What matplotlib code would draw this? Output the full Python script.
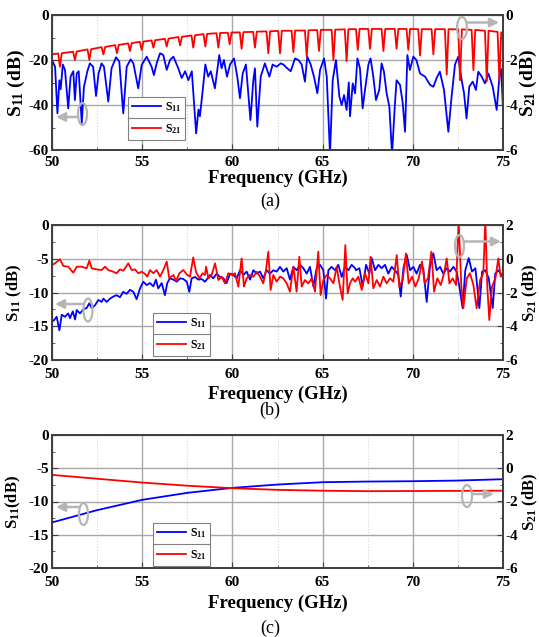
import matplotlib
matplotlib.use('Agg')
import matplotlib.pyplot as plt
from matplotlib.ticker import MultipleLocator
from matplotlib.patches import Ellipse
from matplotlib.lines import Line2D

plt.rcParams['font.family'] = 'Liberation Serif'
plt.rcParams['font.weight'] = 'bold'
plt.rcParams['axes.labelweight'] = 'bold'
plt.rcParams['mathtext.fontset'] = 'custom'
plt.rcParams['mathtext.rm'] = 'Liberation Serif:bold'
plt.rcParams['mathtext.bf'] = 'Liberation Serif:bold'
plt.rcParams['mathtext.it'] = 'Liberation Serif:bold:italic'
plt.rcParams['axes.unicode_minus'] = False

# ---------------- (a) ----------------
s11a_f = [50.0, 50.17, 50.3, 50.41, 50.48, 50.6, 50.72, 50.9, 51.03, 51.18, 51.27, 51.37, 51.48, 51.65,
          51.77, 51.96, 52.1, 52.28, 52.44, 52.58, 52.75, 52.88, 53.12, 53.3, 53.55, 53.73, 53.95, 54.14,
          54.36, 54.51, 54.78, 54.97, 55.25, 55.52, 55.65, 55.8, 55.99, 56.17, 56.36, 56.54, 56.73, 57.0,
          57.19, 57.38, 57.56, 57.75, 57.99, 58.12, 58.2, 58.4, 58.5, 58.66, 58.8, 59.03, 59.27, 59.4,
          59.53, 59.7, 59.87, 60.09, 60.27, 60.42, 60.57, 60.75, 61.0, 61.16, 61.25, 61.38, 61.57, 61.8,
          62.05, 62.23, 62.45, 62.68, 62.82, 63.04, 63.23, 63.47, 63.66, 63.84, 64.02, 64.15, 64.34, 64.52,
          64.71, 64.86, 65.08, 65.23, 65.41, 65.56, 65.74, 65.93, 66.06, 66.19, 66.33, 66.45, 66.52, 66.67,
          66.8, 66.93, 67.07, 67.22, 67.35, 67.54, 67.66, 67.81, 67.96, 68.14, 68.27, 68.4, 68.55, 68.7,
          68.85, 69.0, 69.1, 69.29, 69.44, 69.57, 69.7, 69.84, 70.03, 70.2, 70.4, 70.68, 70.95, 71.14,
          71.32, 71.5, 71.73, 71.97, 72.15, 72.34, 72.52, 72.71, 72.84, 72.98, 73.13, 73.32, 73.5, 73.63,
          73.82, 74.0, 74.19, 74.43, 74.65, 74.8, 74.9, 75.0]
s11a_db = [-20, -23, -43.7, -29, -33, -22, -24.4, -41.5, -27.4, -25, -37.8, -26, -25, -48,
           -32, -25, -21.5, -23, -36, -26, -21.5, -23, -38.5, -23.7, -18.8, -20.7, -43.7, -23,
           -19.7, -21.5, -32.6, -22.2, -18.5, -23, -26.7, -21.5, -17, -17.8, -24.4, -20, -18.5, -23.7,
           -28, -25, -29, -25, -52.6, -42, -45, -30, -22, -27.4, -25, -32.6, -17.8, -23.7,
           -20, -27.4, -22, -19.3, -27.4, -37, -26, -22, -46.7, -29, -23.7, -49.6, -27.4, -21.5,
           -27.4, -22, -23, -21.5, -22, -23.7, -25, -19.3, -20, -22, -29.6, -18.5, -22, -27.4,
           -34.8, -24.4, -19.3, -27.4, -62, -29, -20, -36.3, -40, -35.6, -42.2, -30, -45, -30.4,
           -34.8, -19.3, -23.7, -41.5, -33.3, -22, -19.3, -27.4, -37.8, -33.3, -21.5, -25.2, -34.8, -40.7,
           -62, -40.7, -29, -31, -39, -51.9, -17.8, -24.4, -18.5, -20, -26, -27.4, -31, -31.9,
           -28, -25.2, -33.3, -51.9, -36.3, -22, -18.5, -29, -34.8, -46, -31.9, -29.6, -33.3, -25.2,
           -27.4, -30.4, -26, -31.9, -42.2, -27.4, -24, -42]

s21a_f = [50.0, 50.34, 50.44, 50.54, 51.17, 51.27, 51.37, 51.97, 52.07, 52.17, 52.75, 52.85, 52.95,
          53.5, 53.6, 53.7, 54.22, 54.32, 54.42, 54.87, 54.97, 55.07, 55.52, 55.62, 55.72, 56.26, 56.36,
          56.46, 57.0, 57.1, 57.2, 57.73, 57.83, 57.93, 58.4, 58.5, 58.6, 59.12, 59.22, 59.32, 59.75,
          59.85, 59.95, 60.41, 60.51, 60.61, 61.15, 61.25, 61.35, 61.89, 61.99, 62.09, 62.54, 62.64,
          62.74, 63.28, 63.38, 63.48, 64.02, 64.12, 64.22, 64.7, 64.8, 64.9, 65.5, 65.6, 65.7, 66.23,
          66.33, 66.43, 66.85, 66.95, 67.05, 67.53, 67.63, 67.73, 68.27, 68.37, 68.47, 69.0, 69.1, 69.2,
          69.65, 69.75, 69.85, 70.3, 70.4, 70.5, 71.04, 71.14, 71.24, 71.78, 71.88, 71.98, 72.52, 72.62,
          72.72, 73.26, 73.36, 73.46, 74.0, 74.1, 74.2, 74.7, 74.8, 74.9, 75.0]
s21a_db = [-1.75, -1.71, -2.3, -1.70, -1.63, -2.0, -1.62, -1.53, -2.0, -1.52, -1.43, -1.75, -1.42,
           -1.34, -1.7, -1.33, -1.26, -1.6, -1.25, -1.19, -1.55, -1.18, -1.13, -1.45, -1.12, -1.06, -1.4,
           -1.05, -0.98, -1.35, -0.97, -0.91, -1.45, -0.9, -0.85, -1.4, -0.84, -0.81, -1.45, -0.8, -0.79,
           -1.3, -0.78, -0.77, -1.5, -0.76, -0.75, -1.45, -0.74, -0.73, -1.7, -0.72, -0.71, -1.7,
           -0.7, -0.7, -1.65, -0.69, -0.69, -1.85, -0.68, -0.67, -1.6, -0.66, -0.66, -2.0, -0.65, -0.64,
           -2.05, -0.63, -0.63, -1.55, -0.62, -0.62, -1.5, -0.62, -0.62, -1.6, -0.62, -0.62, -1.5, -0.62,
           -0.62, -1.55, -0.62, -0.63, -1.8, -0.63, -0.63, -1.75, -0.63, -0.63, -2.65, -0.63, -0.64, -2.9,
           -0.64, -0.66, -2.45, -0.66, -0.7, -2.95, -0.7, -0.75, -2.95, -0.77, -0.8]

# ---------------- (b) ----------------
s11b_f = [50.0, 50.11, 50.26, 50.41, 50.54, 50.72, 50.9, 51.0, 51.15, 51.28, 51.37, 51.55, 51.74, 51.92,
          52.07, 52.2, 52.38, 52.57, 52.75, 52.85, 53.03, 53.22, 53.4, 53.58, 53.77, 53.95, 54.14, 54.32,
          54.51, 54.69, 54.88, 55.06, 55.25, 55.43, 55.62, 55.76, 55.89, 56.08, 56.26, 56.39, 56.54, 56.73,
          56.91, 57.1, 57.28, 57.47, 57.61, 57.74, 57.93, 58.11, 58.3, 58.48,
          58.57, 58.76, 58.94, 59.13, 59.31, 59.5, 59.68, 59.87, 60.05, 60.24, 60.42, 60.61, 60.79, 60.98,
          61.16, 61.35, 61.53, 61.71, 61.9, 62.08, 62.27, 62.45, 62.64, 62.82, 63.01, 63.19, 63.38, 63.56,
          63.75, 63.93, 64.12, 64.3, 64.49, 64.67, 64.86, 65.04, 65.19, 65.32, 65.5, 65.69, 65.87, 66.06,
          66.24, 66.43, 66.61, 66.8,
          66.85, 67.04, 67.22, 67.41, 67.59, 67.72, 67.91, 68.09, 68.27, 68.46, 68.64, 68.83, 69.01, 69.2,
          69.33, 69.48, 69.66, 69.85, 70.03, 70.21, 70.4, 70.58, 70.77, 70.95, 71.14, 71.32, 71.51, 71.69,
          71.88, 72.06, 72.25, 72.43, 72.58, 72.76, 72.91, 73.1, 73.28, 73.47, 73.69, 73.84, 74.02, 74.21,
          74.43, 74.57, 74.76, 74.92, 75.0]
s11b_db = [-14.3, -14.1, -13.6, -15.6, -13.3, -13.6, -13.1, -13.8, -12.8, -14.0, -12.6, -13.1, -12.5, -12.3,
           -11.6, -12.3, -11.9, -11.1, -11.4, -10.9, -11.4, -10.9, -10.6, -10.4, -10.7, -9.9, -10.2, -9.6,
           -9.9, -11.0, -9.4, -8.4, -8.9, -8.6, -9.1, -8.1, -9.4, -8.6, -10.4, -8.6, -7.9, -8.1,
           -8.4, -7.9, -8.0, -8.4, -9.9, -7.9, -7.7, -8.1, -8.0, -8.4,
           -8.1, -7.4, -7.9, -7.2, -7.7, -7.9, -8.6, -7.2, -7.4, -7.9, -6.7, -7.4, -6.9, -8.1,
           -6.7, -7.2, -6.9, -7.9, -6.7, -7.2, -6.7, -6.9, -6.2, -6.9, -6.4, -8.1, -6.2, -6.7,
           -5.9, -6.4, -7.2, -6.2, -9.1, -6.4, -5.9, -6.7, -10.9, -6.7, -6.2, -6.7, -5.9, -7.7,
           -6.2, -6.7, -5.9, -6.4,
           -6.7, -6.4, -9.1, -5.9, -7.2, -4.9, -6.7, -5.9, -6.4, -5.9, -7.2, -6.2, -6.7, -7.4,
           -10.6, -6.4, -4.4, -6.7, -6.2, -7.2, -5.9, -6.4, -11.4, -6.2, -4.2, -6.7, -6.2, -7.2,
           -6.4, -6.9, -6.2, -6.9, -9.1, -12.3, -6.7, -4.9, -6.9, -6.4, -12.3, -6.9, -6.7, -7.9,
           -12.3, -7.2, -6.7, -7.4, -7.7]

s21b_f = [50.0, 50.17, 50.44, 50.63, 50.9, 51.18, 51.37, 51.64, 51.92, 52.07, 52.2, 52.48, 52.75, 52.94,
          53.12, 53.4, 53.58, 53.77, 53.95, 54.23, 54.42, 54.6, 54.79, 54.97, 55.16, 55.28, 55.43, 55.62,
          55.8, 55.99, 56.17, 56.36, 56.5, 56.73, 56.87, 57.06, 57.28, 57.5, 57.65, 57.83, 57.98, 58.17,
          58.35, 58.48,
          58.54, 58.67, 58.85, 59.04, 59.22, 59.41, 59.59, 59.77, 59.96, 60.14, 60.33, 60.51, 60.64, 60.79,
          60.98, 61.16, 61.35, 61.53, 61.71, 61.86, 61.99, 62.12, 62.27, 62.45, 62.64, 62.82, 63.01, 63.19,
          63.38, 63.56, 63.71, 63.84, 64.02, 64.21, 64.39, 64.58, 64.76, 64.89, 65.04, 65.23, 65.41, 65.6,
          65.78, 65.96, 66.11, 66.26, 66.39, 66.52, 66.67, 66.8,
          66.98, 67.17, 67.35, 67.54, 67.66, 67.81, 68.0, 68.18, 68.37, 68.55, 68.74, 68.92, 69.11, 69.25,
          69.44, 69.62, 69.77, 69.96, 70.14, 70.33, 70.51, 70.66, 70.84, 71.03, 71.18, 71.36, 71.55, 71.73,
          71.88, 72.03, 72.21, 72.4, 72.54, 72.69, 72.8, 72.99, 73.17, 73.36, 73.54, 73.73, 73.91, 74.02,
          74.13, 74.24, 74.39, 74.58, 74.74, 74.87, 75.0]
s21b_db = [-0.37, -0.27, -0.03, -0.43, -0.47, -0.83, -0.47, -0.47, -0.57, -0.11, -0.57, -0.63, -0.67, -0.47,
           -0.67, -0.77, -0.86, -0.63, -0.71, -0.27, -0.67, -0.63, -0.86, -0.77, -0.9, -1.06, -0.67, -0.86,
           -0.67, -1.06, -0.67, -0.17, -1.16, -0.96, -1.32, -0.86, -0.67, -0.96, -1.06, 0.08, -0.77, -1.16,
           -0.86, -0.96,
           -0.47, -1.16, -0.96, -0.27, -1.26, -1.06, -1.46, -0.86, -0.96, -0.86, -1.65, 0.02, -1.65, -1.16,
           -0.96, -1.06, -0.77, -1.06, -1.46, -0.67, 0.42, -1.85, -0.96, -1.36, -1.06, -1.16, -1.46, -1.95,
           -0.47, -1.95, 0.12, -1.65, -1.26, -1.46, -1.16, -1.95, 0.42, -2.15, -1.26, -0.96, -1.16, -1.46,
           -0.47, -1.65, -2.44, 0.81, -2.05, -1.46, -1.16, -1.36,
           -1.06, -1.85, -0.86, -1.46, 0.12, -1.75, -1.26, -1.65, -1.06, -1.46, -1.16, -1.36, 0.22, -1.65,
           -1.26, 0.32, -1.46, -1.06, -1.65, -1.16, -0.17, -1.46, -1.16, 0.42, -1.95, -1.16, -1.56, -0.86,
           0.02, -1.46, -1.16, -1.56, 2.3, -1.65, -2.94, -1.16, -0.86, -1.56, -2.94, -1.26, -0.86, 2.3,
           -1.65, -3.63, -1.65, -1.16, 0.02, -1.06, -0.86]

# ---------------- (c) ----------------
s11c_f = [50.0, 52.5, 55.0, 57.5, 60.0, 62.5, 65.0, 67.5, 70.0, 72.5, 75.0]
s11c_db = [-13.15, -11.3, -9.75, -8.7, -7.95, -7.45, -7.1, -7.0, -6.95, -6.85, -6.65]
s21c_f = [50.0, 52.5, 55.0, 57.5, 60.0, 62.5, 65.0, 67.5, 70.0, 72.5, 75.0]
s21c_db = [-0.4, -0.63, -0.86, -1.05, -1.2, -1.3, -1.35, -1.38, -1.37, -1.36, -1.35]

W, H = 539, 637
fig = plt.figure(figsize=(W / 100, H / 100), dpi=100)
BLUE, RED = '#0000ff', '#ff0000'


def panel(top, bottom, f11, v11, f21, v21, lylim, lmaj, lmin, rylim, rmaj, rmin,
          llab, rlab, labfs, xpad, xlabpad, llx, rlx, leg_anchor):
    ax = fig.add_axes([52 / W, 1 - bottom / H, 451 / W, (bottom - top) / H])
    l1, = ax.plot(f11, v11, color=BLUE, lw=1.3, label=r'$\mathbf{S_{11}}$')
    ax.set_xlim(50, 75)
    ax.set_ylim(*lylim)
    ax.xaxis.set_major_locator(MultipleLocator(5))
    ax.xaxis.set_minor_locator(MultipleLocator(2.5))
    ax.yaxis.set_major_locator(MultipleLocator(lmaj))
    ax.yaxis.set_minor_locator(MultipleLocator(lmin))
    ax.grid(which='major', color='#a8a8a8', lw=1.0)
    ax.grid(which='minor', axis='x', color='#d5d5d5', lw=0.8, ls=':')
    ax.tick_params(which='both', direction='in', labelsize=11, pad=xpad, color='#404040')
    ax.tick_params(axis='y', pad=2)
    ax.tick_params(which='major', length=4)
    ax.tick_params(which='minor', length=2.5)
    for s in ax.spines.values():
        s.set_color('#404040')
        s.set_linewidth(1.3)
    ax.set_xlabel('Frequency (GHz)', fontsize=13.5, labelpad=xlabpad)
    ax.set_ylabel(llab, fontsize=labfs)
    ax.yaxis.set_label_coords(llx, 0.5)

    ax2 = ax.twinx()
    l2, = ax2.plot(f21, v21, color=RED, lw=1.3, label=r'$\mathbf{S_{21}}$')
    ax2.set_ylim(*rylim)
    ax2.yaxis.set_major_locator(MultipleLocator(rmaj))
    ax2.yaxis.set_minor_locator(MultipleLocator(rmin))
    ax2.tick_params(which='both', direction='in', labelsize=11, pad=2, color='#404040')
    ax2.tick_params(which='major', length=4)
    ax2.tick_params(which='minor', length=2.5)
    ax2.set_ylabel(rlab, fontsize=labfs)
    ax2.yaxis.set_label_coords(rlx, 0.5)
    for s in ax2.spines.values():
        s.set_color('#404040')
        s.set_linewidth(1.3)
    leg = ax2.legend(handles=[l1, l2], loc='upper left', bbox_to_anchor=leg_anchor,
                     fontsize=8.5, frameon=True, fancybox=False, edgecolor='#808080',
                     framealpha=1, handlelength=2.5, handletextpad=0.3, labelspacing=0.7,
                     borderpad=0.3, borderaxespad=0)
    leg.get_frame().set_linewidth(0.8)
    return leg


legs = []
legs.append(panel(15, 150, s11a_f, s11a_db, s21a_f, s21a_db, (-60, 0), 20, 10, (-6, 0), 2, 1,
                  r'$\mathbf{S_{11}}$ (dB)', r'$\mathbf{S_{21}}$ (dB)', 14, 4, 1, -0.056, 1.034,
                  (0.169, 0.393)))
legs.append(panel(225, 360, s11b_f, s11b_db, s21b_f, s21b_db, (-20, 0), 5, 2.5, (-6, 2), 2, 1,
                  r'$\mathbf{S_{11}}$ (dB)', r'$\mathbf{S_{21}}$ (dB)', 12, 6, 3, -0.062, 1.04,
                  (0.224, 0.35)))
legs.append(panel(435, 568, s11c_f, s11c_db, s21c_f, s21c_db, (-20, 0), 5, 2.5, (-6, 2), 2, 1,
                  r'$\mathbf{S_{11}}$(dB)', r'$\mathbf{S_{21}}$ (dB)', 12, 6, 4, -0.064, 1.04,
                  (0.224, 0.34)))

for tag, y in [('(a)', 201), ('(b)', 410), ('(c)', 628)]:
    fig.text(270 / W, 1 - y / H, tag, ha='center', va='center', fontsize=13, fontweight='normal')

# annotation overlay in pixel coordinates
ov = fig.add_axes([0, 0, 1, 1], zorder=10)
ov.set_xlim(0, W)
ov.set_ylim(H, 0)
ov.axis('off')
ov.patch.set_alpha(0)
GREY = '#b5b5b5'
marks = [((82.5, 114), 9, 22, (78, 117), (56, 117)),
         ((462, 28), 10, 22, (467, 22.5), (499, 22.5)),
         ((88, 310), 9, 23, (83.5, 304), (55, 304)),
         ((459.5, 246), 9, 22, (464, 241.5), (501, 241.5)),
         ((83.5, 514), 9, 22, (79, 507), (56, 507)),
         ((467, 496), 10, 22, (472, 494), (494, 494))]
for c, w, h, p0, p1 in marks:
    ov.add_patch(Ellipse(c, w, h, fill=False, edgecolor=GREY, lw=1.6))
    ov.annotate('', xy=p1, xytext=p0,
                arrowprops=dict(arrowstyle='-|>', color=GREY, lw=1.8, mutation_scale=13,
                                shrinkA=0, shrinkB=0))

fig.canvas.draw()
for leg in legs:
    bb = leg.get_window_extent().transformed(fig.transFigure.inverted())
    ym = (bb.y0 + bb.y1) / 2
    fig.add_artist(Line2D([bb.x0, bb.x1], [ym, ym], transform=fig.transFigure,
                          color='#808080', lw=0.8, zorder=20))

fig.savefig('out.png', dpi=100)
